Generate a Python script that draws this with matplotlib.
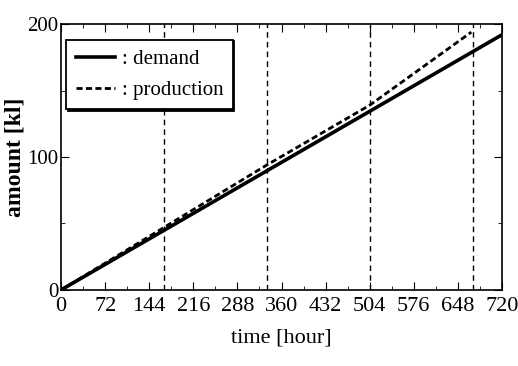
import matplotlib
matplotlib.use("Agg")
import matplotlib.pyplot as plt
from matplotlib.ticker import MultipleLocator

# data
demand_t = [0, 720]
demand_v = [0, 192]
prod_t = [0, 168, 336, 504, 670]
prod_v = [0, 47, 94, 139, 194]
week_marks = [168, 336, 504, 672]
xticks = [0, 72, 144, 216, 288, 360, 432, 504, 576, 648, 720]
yticks = [0, 100, 200]

plt.rcParams['font.family'] = ['Liberation Serif', 'DejaVu Serif']

fig = plt.figure(figsize=(5.18, 3.66), dpi=100)
ax = fig.add_axes([0.118, 0.208, 0.851, 0.726])

for w in week_marks:
    ax.axvline(w, color='black', lw=1.0, ls=(0, (4, 3)))

ax.plot(demand_t, demand_v, color='black', lw=2.6, label=': demand')
ax.plot(prod_t, prod_v, color='black', lw=2.0, ls=(0, (2.2, 1.2)), label=': production')

ax.set_xlim(0, 720)
ax.set_ylim(0, 200)
ax.set_xticks(xticks)
ax.set_yticks(yticks)
ax.xaxis.set_minor_locator(MultipleLocator(36))
ax.yaxis.set_minor_locator(MultipleLocator(50))
ax.tick_params(which='both', direction='in', top=True, right=True)
ax.tick_params(axis='x', pad=5, labelsize=16)
ax.tick_params(axis='y', pad=2, labelsize=15)
ax.tick_params(which='major', length=6)
ax.tick_params(which='minor', length=3)
for s in ax.spines.values():
    s.set_linewidth(1.2)

ax.set_xlabel('time [hour]', fontsize=16, labelpad=9)
ax.set_ylabel('amount [kl]', fontsize=17, fontweight='bold')
ax.yaxis.set_label_coords(-0.08, 0.5)

leg = ax.legend(loc='upper left', fontsize=15, frameon=True, fancybox=False,
                handlelength=1.9, handletextpad=0.3, borderpad=0.45,
                labelspacing=0.55, borderaxespad=0,
                bbox_to_anchor=(0.012, 0.94),
                shadow={'color': 'black', 'alpha': 1, 'ox': 1.0, 'oy': -1.0})
leg.get_frame().set_edgecolor('black')
leg.get_frame().set_linewidth(1.3)
leg.get_frame().set_alpha(1)

fig.savefig('out.png', dpi=100)
